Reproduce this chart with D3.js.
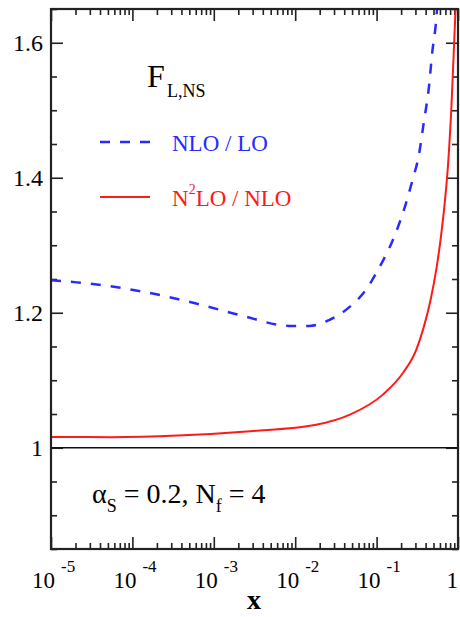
<!DOCTYPE html>
<html>
<head>
<meta charset="utf-8">
<script src="https://cdn.jsdelivr.net/npm/d3@7"></script>
<style>
  body { margin: 0; background: #fff; }
  svg { display: block; }
  text { font-family: "Liberation Serif", "DejaVu Serif", serif; }
</style>
</head>
<body>
<div id="chart"></div>
<script>
// values
const nloLoX = [1e-5, 2.07e-5, 6.5e-5, 1.9e-4, 5.9e-4, 1.74e-3, 2.5e-3, 8.5e-3, 1.5e-2, 2.6e-2, 4.7e-2,
                7.4e-2, 0.109, 0.158, 0.216, 0.279, 0.33, 0.38, 0.439, 0.482, 0.541, 0.575];
const nloLoY = [1.248, 1.245, 1.2377, 1.2277, 1.214, 1.199, 1.194, 1.1805, 1.1805, 1.189, 1.209,
                1.234, 1.268, 1.3075, 1.352, 1.3985, 1.433, 1.482, 1.534, 1.585, 1.635, 1.68];

const n2loNloX = [1e-5, 5.5e-5, 3.6e-4, 2.8e-3, 1.8e-2, 4.7e-2, 0.1194, 0.2104, 0.307, 0.3776,
                  0.4603, 0.5445, 0.618, 0.6823, 0.7534, 0.8318, 0.931, 1];
const n2loNloY = [1.016, 1.0157, 1.018, 1.0245, 1.034, 1.049, 1.0787, 1.1107, 1.1451, 1.1776,
                  1.2189, 1.2661, 1.3133, 1.3591, 1.4181, 1.5066, 1.647, 1.721];

const xMajor = [1e-5, 1e-4, 1e-3, 1e-2, 1e-1, 1];
const xExp = ["-5", "-4", "-3", "-2", "-1", ""];
const yMajor = [1.0, 1.2, 1.4, 1.6];
const yLabels = ["1", "1.2", "1.4", "1.6"];

const width = 460, height = 617;
const margin = { left: 51, top: 9, right: 2, bottom: 68 };
const plotW = width - margin.left - margin.right;
const plotH = height - margin.top - margin.bottom;

const svg = d3.select("#chart")
    .append("svg")
    .attr("width", width)
    .attr("height", height);

const g = svg.append("g")
    .attr("transform", `translate(${margin.left},${margin.top})`);

const x = d3.scaleLog().domain([1e-5, 1]).range([0, plotW]);
const y = d3.scaleLinear().domain([0.85, 1.65]).range([plotH, 0]);

// minor ticks: 2..9 in every decade, every 0.05 in y
const xMinor = [];
for (let e = -5; e < 0; e++) {
    for (let m = 2; m <= 9; m++) xMinor.push(m * Math.pow(10, e));
}
const yMinor = d3.range(0.85, 1.651, 0.05).map(v => +v.toFixed(2))
    .filter(v => !yMajor.some(m => Math.abs(m - v) < 1e-6));

const tickAxis = (axisFn, scale, values, size, transform) => {
    const ax = g.append("g")
        .attr("transform", transform)
        .call(axisFn(scale).tickValues(values).tickSize(size).tickFormat(""));
    ax.select(".domain").remove();
    ax.selectAll("line").attr("stroke", "#222").attr("stroke-width", 1.6);
};

tickAxis(d3.axisBottom, x, xMajor, -12, `translate(0,${plotH})`);
tickAxis(d3.axisBottom, x, xMinor, -6, `translate(0,${plotH})`);
tickAxis(d3.axisTop, x, xMajor, -12, "translate(0,0)");
tickAxis(d3.axisTop, x, xMinor, -6, "translate(0,0)");
tickAxis(d3.axisLeft, y, yMajor, -12, "translate(0,0)");
tickAxis(d3.axisLeft, y, yMinor, -6, "translate(0,0)");
tickAxis(d3.axisRight, y, yMajor, -12, `translate(${plotW},0)`);
tickAxis(d3.axisRight, y, yMinor, -6, `translate(${plotW},0)`);

// reference line at 1
g.append("line")
    .attr("x1", 0).attr("x2", plotW)
    .attr("y1", y(1)).attr("y2", y(1))
    .attr("stroke", "#111")
    .attr("stroke-width", 1.5);

// clip for the curves
g.append("clipPath").attr("id", "plot-clip")
    .append("rect").attr("width", plotW).attr("height", plotH);

const line = d3.line()
    .x(d => x(d[0]))
    .y(d => y(d[1]))
    .curve(d3.curveMonotoneX);

g.append("path")
    .datum(d3.zip(nloLoX, nloLoY))
    .attr("clip-path", "url(#plot-clip)")
    .attr("d", line)
    .attr("fill", "none")
    .attr("stroke", "#2a2aff")
    .attr("stroke-width", 2.5)
    .attr("stroke-dasharray", "10,10");

g.append("path")
    .datum(d3.zip(n2loNloX, n2loNloY))
    .attr("clip-path", "url(#plot-clip)")
    .attr("d", line)
    .attr("fill", "none")
    .attr("stroke", "#ff1a1a")
    .attr("stroke-width", 2);

// frame
g.append("rect")
    .attr("width", plotW)
    .attr("height", plotH)
    .attr("fill", "none")
    .attr("stroke", "#222")
    .attr("stroke-width", 2.2);

// y tick labels
svg.selectAll(".ylab")
    .data(yMajor)
    .join("text")
    .attr("class", "ylab")
    .attr("x", 43)
    .attr("y", d => margin.top + y(d) + 8)
    .attr("text-anchor", "end")
    .style("font-size", "24px")
    .text((d, i) => yLabels[i]);

// x tick labels: 10 with exponent
const xl = svg.selectAll(".xlab")
    .data(xMajor)
    .join("g")
    .attr("class", "xlab")
    .attr("transform", d => `translate(${margin.left + x(d)},0)`);

xl.append("text")
    .attr("x", (d, i) => xExp[i] ? 4 : 0)
    .attr("y", 588)
    .attr("text-anchor", "end")
    .style("font-size", "23px")
    .text((d, i) => xExp[i] ? "10" : "1");

xl.append("text")
    .attr("x", 10)
    .attr("y", 572)
    .style("font-size", "17px")
    .text((d, i) => xExp[i]);

svg.append("text")
    .attr("x", 254)
    .attr("y", 609)
    .attr("text-anchor", "middle")
    .style("font-size", "28px")
    .style("font-weight", "bold")
    .text("x");

// title and legend
const title = svg.append("text").attr("x", 147).attr("y", 87);
title.append("tspan").style("font-size", "32px").text("F");
title.append("tspan").attr("x", 167).attr("y", 97).style("font-size", "18px").text("L,NS");

g.append("line")
    .attr("x1", 100 - margin.left).attr("x2", 150 - margin.left)
    .attr("y1", 142 - margin.top).attr("y2", 142 - margin.top)
    .attr("stroke", "#2a2aff")
    .attr("stroke-width", 2.5)
    .attr("stroke-dasharray", "10,10");

svg.append("text")
    .attr("x", 172).attr("y", 151)
    .attr("fill", "#2a2aff")
    .style("font-size", "23px")
    .text("NLO / LO");

g.append("line")
    .attr("x1", 100 - margin.left).attr("x2", 150 - margin.left)
    .attr("y1", 197 - margin.top).attr("y2", 197 - margin.top)
    .attr("stroke", "#ff1a1a")
    .attr("stroke-width", 2);

const red = svg.append("text")
    .attr("x", 172).attr("y", 206)
    .attr("fill", "#ff1a1a")
    .style("font-size", "23px");
red.append("tspan").text("N");
red.append("tspan").attr("dy", -12).style("font-size", "14px").text("2");
red.append("tspan").attr("dy", 12).text("LO / NLO");

// coupling annotation
const ann = svg.append("text").attr("x", 92).attr("y", 503).style("font-size", "28px");
ann.append("tspan").text("α");
ann.append("tspan").attr("dy", 9).style("font-size", "18px").text("S");
ann.append("tspan").attr("dy", -9).text(" = 0.2, N");
ann.append("tspan").attr("dy", 9).style("font-size", "18px").text("f");
ann.append("tspan").attr("dy", -9).text(" = 4");
</script>
</body>
</html>
